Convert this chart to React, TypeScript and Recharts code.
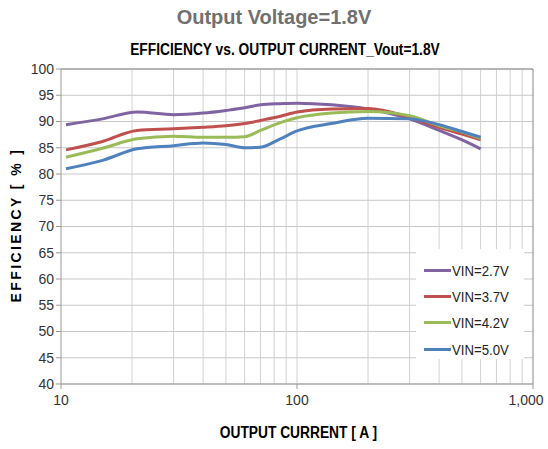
import React from 'react';
import {
    LineChart,
    Line,
    XAxis,
    YAxis,
    CartesianGrid,
    ReferenceLine,
} from 'recharts';

const currents = [10.5, 15, 21, 30, 40, 50, 60, 70, 85, 100, 140, 200, 300, 400, 500, 600];
const vin27 = [89.4, 90.5, 91.8, 91.3, 91.6, 92.1, 92.6, 93.2, 93.4, 93.5, 93.2, 92.4, 90.5, 88.3, 86.5, 84.8];
const vin37 = [84.6, 86.2, 88.3, 88.6, 88.9, 89.2, 89.6, 90.2, 91.0, 91.8, 92.4, 92.5, 90.8, 88.9, 87.6, 86.5];
const vin42 = [83.2, 84.9, 86.7, 87.2, 87.0, 87.0, 87.1, 88.3, 89.8, 90.7, 91.6, 91.9, 91.1, 89.2, 88.0, 86.8];
const vin50 = [81.0, 82.6, 84.8, 85.4, 85.9, 85.6, 85.0, 85.1, 86.7, 88.2, 89.6, 90.6, 90.5, 89.4, 88.1, 87.0];

const xTicks = [10, 100, 1000];
const xMinor = [20, 30, 40, 50, 60, 70, 80, 90, 100, 200, 300, 400, 500, 600, 700, 800, 900, 1000];
const yTicks = [40, 45, 50, 55, 60, 65, 70, 75, 80, 85, 90, 95, 100];

const series = [
    { key: 'v27', name: 'VIN=2.7V', color: '#8064a2', values: vin27 },
    { key: 'v37', name: 'VIN=3.7V', color: '#c0504d', values: vin37 },
    { key: 'v42', name: 'VIN=4.2V', color: '#9bbb59', values: vin42 },
    { key: 'v50', name: 'VIN=5.0V', color: '#4f81bd', values: vin50 },
];

const data = currents.map((c, i) => {
    const row: Record<string, number> = { current: c };
    series.forEach(s => { row[s.key] = s.values[i]; });
    return row;
});

const FONT = '"Liberation Sans", Arial, sans-serif';

const XTick = (props: any) => {
    const { x, y, payload } = props;
    const v = payload.value as number;
    const dx = v === 1000 ? -6 : 0;
    return (
        <text x={x + dx} y={y + 14} textAnchor="middle" fontFamily={FONT} fontSize={14} fill="#333">
            {v.toLocaleString('en-US')}
        </text>
    );
};

const LegendBox = () => (
    <div style={{ position: 'absolute', left: 416, top: 249, background: '#fff', width: 108, height: 110, padding: '8px 0 0 8px', boxSizing: 'border-box' }}>
        {series.map(s => (
            <div key={s.key} style={{ display: 'flex', alignItems: 'center', height: 26.3 }}>
                <span style={{ display: 'inline-block', width: 27, height: 3, background: s.color }} />
                <span style={{ fontFamily: FONT, fontSize: 15, color: '#222', marginLeft: 1, display: 'inline-block', transform: 'scaleX(0.88)', transformOrigin: 'left center' }}>{s.name}</span>
            </div>
        ))}
    </div>
);

export default function App() {
    return (
        <div style={{ position: 'absolute', left: 0, top: 0, width: 548, height: 449, background: '#fff' }}>
            <div style={{ position: 'absolute', left: 0, top: 0 }}>
                <LineChart width={548} height={449} data={data} margin={{ top: 69, right: 15, left: 0, bottom: 0 }}>
                    <CartesianGrid vertical={false} stroke="#c8c8c8" />
                    {xMinor.map(v => (
                        <ReferenceLine key={v} x={v} stroke={v === 1000 ? '#888' : '#d0d0d0'} />
                    ))}
                    <ReferenceLine y={100} stroke="#888" />
                    <XAxis
                        dataKey="current"
                        type="number"
                        scale="log"
                        domain={[10, 1000]}
                        ticks={xTicks}
                        allowDataOverflow
                        height={65}
                        stroke="#999"
                        tickSize={5}
                        tick={<XTick />}
                    />
                    <YAxis
                        type="number"
                        domain={[40, 100]}
                        ticks={yTicks}
                        width={61}
                        stroke="#999"
                        tickSize={5}
                        tick={{ fontFamily: FONT, fontSize: 14, fill: '#333' }}
                    />
                    {series.map(s => (
                        <Line
                            key={s.key}
                            dataKey={s.key}
                            name={s.name}
                            type="monotone"
                            stroke={s.color}
                            strokeWidth={3}
                            dot={false}
                            isAnimationActive={false}
                        />
                    ))}
                </LineChart>
            </div>
            <div style={{ position: 'absolute', top: 6, width: 548, textAlign: 'center', fontFamily: FONT, fontWeight: 'bold', fontSize: 20, color: '#707070' }}>
                Output Voltage=1.8V
            </div>
            <div style={{ position: 'absolute', top: 41, left: 0, width: 548, textAlign: 'center' }}>
                <span style={{ display: 'inline-block', fontFamily: FONT, fontWeight: 'bold', fontSize: 16, color: '#000', transform: 'scaleX(0.86)', transformOrigin: 'center', marginLeft: 22 }}>
                    EFFICIENCY vs. OUTPUT CURRENT_Vout=1.8V
                </span>
            </div>
            <div style={{ position: 'absolute', top: 424, left: 0, width: 596, textAlign: 'center' }}>
                <span style={{ display: 'inline-block', fontFamily: FONT, fontWeight: 'bold', fontSize: 16, color: '#000', transform: 'scaleX(0.86)' }}>
                    OUTPUT CURRENT [ A ]
                </span>
            </div>
            <div style={{ position: 'absolute', left: 16, top: 226, width: 0, height: 0 }}>
                <div style={{ position: 'absolute', left: -100, top: -9, width: 200, textAlign: 'center', transform: 'rotate(-90deg)', fontFamily: FONT, fontWeight: 'bold', fontSize: 14, letterSpacing: 2.4, color: '#000', whiteSpace: 'nowrap' }}>
                    EFFICIENCY [ % ]
                </div>
            </div>
            <LegendBox />
        </div>
    );
}
